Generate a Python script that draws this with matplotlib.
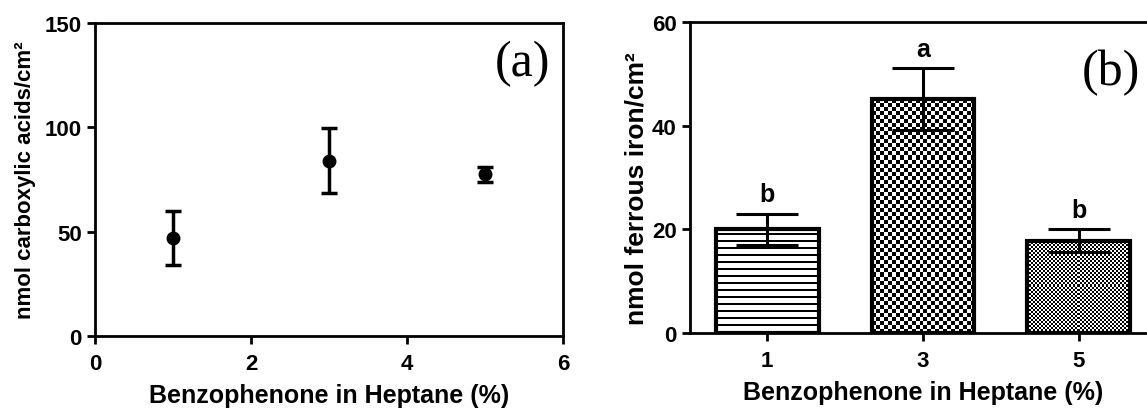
import numpy as np
import matplotlib.pyplot as plt

plt.rcParams['font.family'] = ['Liberation Sans', 'DejaVu Sans']
plt.rcParams['font.weight'] = 'bold'
plt.rcParams['axes.labelweight'] = 'bold'

# panel (a): carboxylic acids
conc_a = [1, 3, 5]
acids = [47.0, 84.0, 77.5]
acids_err = [12.8, 15.7, 3.5]

# panel (b): ferrous iron
conc_b = ['1', '3', '5']
iron = [20.0, 45.1, 17.8]
iron_err = [3.0, 6.0, 2.2]
letters = ['b', 'a', 'b']


def texture(ax, bar, tile, cell):
    # fill a bar with a repeating black/white pattern, clipped to the bar
    bb = bar.get_window_extent()
    tile = np.array(tile, dtype=float)
    ny = max(int(round(bb.height / cell)), 1)
    nx = max(int(round(bb.width / cell)), 1)
    img = np.tile(tile, (ny // tile.shape[0] + 1, nx // tile.shape[1] + 1))[:ny, :nx]
    x0, y0 = bar.get_x(), bar.get_y()
    im = ax.imshow(img, cmap='gray', vmin=0, vmax=1, interpolation='nearest',
                   aspect='auto', origin='lower', zorder=1,
                   extent=[x0, x0 + bar.get_width(), y0, y0 + bar.get_height()])
    im.set_clip_path(bar)


fig = plt.figure(figsize=(11.47, 4.10), dpi=100)
W, H = 1147, 410

# ---- (a)
ax1 = fig.add_axes([95 / W, 73 / H, 468 / W, 313 / H])
ax1.errorbar(conc_a, acids, yerr=acids_err, fmt='o', color='black',
             markersize=9, elinewidth=2.5, capsize=6, capthick=2.5)
ax1.set_xlim(0, 6)
ax1.set_ylim(0, 150)
ax1.set_xticks([0, 2, 4, 6])
ax1.set_yticks([0, 50, 100, 150])
ax1.set_xlabel('Benzophenone in Heptane (%)', fontsize=18, labelpad=7)
ax1.set_ylabel('nmol carboxylic acids/cm²', fontsize=16, labelpad=6)
ax1.text(0.972, 0.872, '(a)', transform=ax1.transAxes, ha='right', va='center',
         fontsize=36, fontweight='normal', family=['Liberation Serif'])

# ---- (b)
ax2 = fig.add_axes([690 / W, 76 / H, 466 / W, 311 / H])
ax2.set_xlim(-0.494, 2.494)
ax2.set_ylim(0, 60)
xb = np.arange(len(conc_b))
bars = ax2.bar(xb, iron, width=0.66, facecolor='none', edgecolor='black',
               linewidth=3, zorder=2)
texture(ax2, bars[0], [[0], [0], [1], [1], [1], [1], [1]], 1)
texture(ax2, bars[1], [[0, 1], [1, 0]], 4)
texture(ax2, bars[2], [[0, 1], [1, 0]], 2)
ax2.set_xlim(-0.494, 2.494)
ax2.set_ylim(0, 60)
ax2.errorbar(xb, iron, yerr=iron_err, fmt='none', ecolor='black',
             elinewidth=2.2, capsize=22, capthick=2.2, zorder=3)
for x, y, e, t in zip(xb, iron, iron_err, letters):
    ax2.annotate(t, (x, y + e), xytext=(0, 9), textcoords='offset points',
                 ha='center', va='baseline', fontsize=18)
ax2.set_xticks(xb, conc_b)
ax2.set_yticks([0, 20, 40, 60])
ax2.set_xlabel('Benzophenone in Heptane (%)', fontsize=18, labelpad=7)
ax2.set_ylabel('nmol ferrous iron/cm²', fontsize=19)
ax2.yaxis.set_label_coords(-0.088, 0.468)
ax2.text(0.966, 0.84, '(b)', transform=ax2.transAxes, ha='right', va='center',
         fontsize=36, fontweight='normal', family=['Liberation Serif'])

for ax in (ax1, ax2):
    for s in ax.spines.values():
        s.set_linewidth(2)
    ax.tick_params(direction='out', length=6, width=2, labelsize=16)
    ax.tick_params(axis='x', pad=6)

fig.savefig('out.png', dpi=100)
